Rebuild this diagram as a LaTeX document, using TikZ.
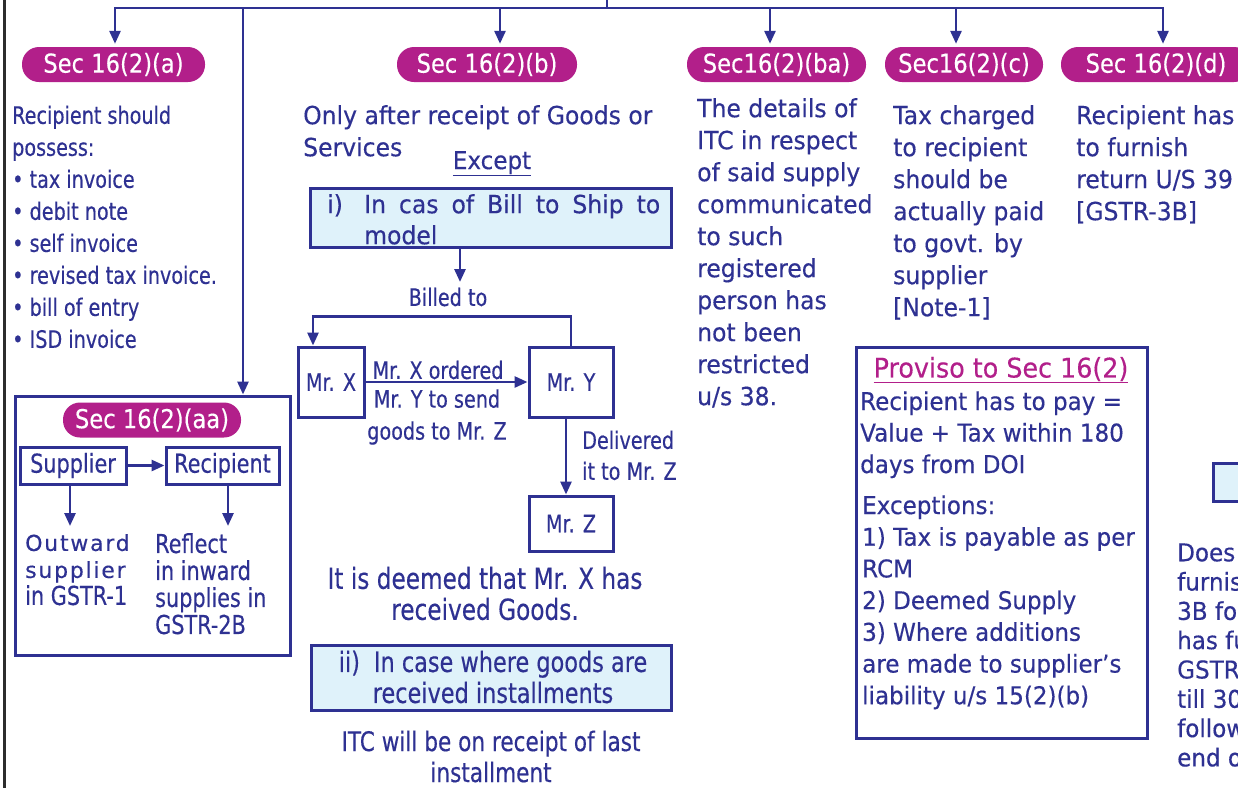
\documentclass[tikz,border=0pt]{standalone}
\usepackage{fontspec}
\setmainfont{DejaVu Sans}
\newfontfamily\mf[FakeStretch=0.94,FakeBold=0.35]{DejaVu Sans}
\newfontfamily\cf[FakeStretch=0.8,FakeBold=0.35]{DejaVu Sans}
\newfontfamily\pf[FakeStretch=0.87,FakeBold=0.3]{DejaVu Sans}
\newfontfamily\wf[LetterSpace=8,FakeBold=0.35]{DejaVu Sans}
\usetikzlibrary{arrows.meta}
\definecolor{navy}{RGB}{46,49,146}
\definecolor{mag}{RGB}{178,31,138}
\definecolor{lblue}{RGB}{223,242,250}
\definecolor{dgray}{RGB}{45,45,45}
\newcommand\fs[2]{\fontsize{#1}{#2}\selectfont}
\tikzset{
  conn/.style={draw=navy, line width=2.7pt},
  arr/.style={conn, -{Triangle[length=13pt,width=11pt]}},
  pill/.style={fill=mag, rounded corners=17pt, minimum height=35pt, text=white, font=\pf\fs{26}{30}, inner sep=0pt},
  box/.style={draw=navy, line width=3pt, inner sep=0pt},
  lbox/.style={box, fill=lblue},
  mrbox/.style={box, text=navy, font=\cf\fs{24}{30}},
  txt/.style={text=navy, inner sep=0pt, anchor=north west, align=left},
  ctxt/.style={text=navy, inner sep=0pt, align=center},
}
\begin{document}
\begin{tikzpicture}[x=1pt,y=-1pt]
\useasboundingbox (0,0) rectangle (1238,788);
\clip (0,0) rectangle (1238,788);
\fill[white] (0,0) rectangle (1238,788);

% left border
\coordinate (lbT) at (4,0);
\coordinate (lbB) at (4,788);
\draw[line width=3pt, dgray] (lbT) -- (lbB);

% bus
\coordinate (feed) at (607,0);
\coordinate (busM) at (607,8);
\coordinate (busL) at (115,8);
\coordinate (busR) at (1163,8);
\coordinate (bb) at (500,8);
\coordinate (bba) at (770,8);
\coordinate (bc) at (956,8);
\coordinate (baa) at (243,8);
\draw[conn] (feed) -- (busM);
\draw[conn, line cap=rect] (busL) -- (busR);

% pills
\node[pill, minimum width=183pt] (pa) at (113.5,64.5) {Sec 16(2)(a)};
\node[pill, minimum width=180pt] (pb) at (487,64.5) {Sec 16(2)(b)};
\node[pill, minimum width=179pt] (pba) at (776.5,64.5) {Sec16(2)(ba)};
\node[pill, minimum width=158pt] (pc) at (964,64.5) {Sec16(2)(c)};
\node[pill, minimum width=190pt] (pd) at (1156,64.5) {Sec 16(2)(d)};

\draw[arr, shorten >=3pt] (busL) -- (busL |- pa.north);
\draw[arr, shorten >=3pt] (bb) -- (bb |- pb.north);
\draw[arr, shorten >=3pt] (bba) -- (bba |- pba.north);
\draw[arr, shorten >=3pt] (bc) -- (bc |- pc.north);
\draw[arr, shorten >=3pt] (busR) -- (busR |- pd.north);

% Sec 16(2)(a) text
\node[txt, font=\cf\fs{24}{32}] (ta) at (12,105.4) {Recipient should\\possess:\\• tax invoice\\• debit note\\• self invoice\\• revised tax invoice.\\• bill of entry\\• ISD invoice};

% Sec 16(2)(aa) block
\node[box, minimum width=275pt, minimum height=259pt] (aabox) at (152.5,525.5) {};
\draw[arr] (baa) -- (baa |- aabox.north);
\node[pill, minimum width=178pt] (paa) at (152,420) {Sec 16(2)(aa)};
\node[box, minimum width=106pt, minimum height=37pt, text=navy, font=\cf\fs{26}{30}] (sup) at (73,465.5) {Supplier};
\node[box, minimum width=113pt, minimum height=37pt, text=navy, font=\cf\fs{26}{30}] (rec) at (222.5,465.5) {Recipient};
\draw[arr] (sup) -- (rec);
\coordinate (supd) at (70,526);
\coordinate (recd) at (228,526);
\draw[arr] (sup.south -| supd) -- (supd);
\draw[arr] (rec.south -| recd) -- (recd);
\node[txt, font=\wf\fs{22}{27}] (outw) at (25,534) {Outward\\supplier\\{\cf\fs{26}{27}in GSTR-1}};
\node[txt, font=\cf\fs{26}{27}] (refl) at (155,533) {Reflect\\in inward\\supplies in\\GSTR-2B};

% Sec 16(2)(b)
\node[txt, font=\mf\fs{25}{32}] (tb) at (303,105) {Only after receipt of Goods or\\Services};
\node[text=navy, inner sep=0pt, anchor=north, font=\mf\fs{24.5}{30}] (exc) at (492,151) {\underline{Except}};
\node[lbox, minimum width=361pt, minimum height=59pt] (ibox) at (490.5,217.5) {};
\node[txt, font=\mf\fs{25}{31}] (inum) at (327,194) {i)};
\node[txt, font=\mf\fs{25}{31}, text width=296pt, align=justify] (itext) at (364,194) {In cas of Bill to Ship to model};
\coordinate (bt) at (460,282);
\draw[arr] (ibox.south -| bt) -- (bt);
\node[ctxt, font=\cf\fs{24}{30}] (billed) at (448,297) {Billed to};

\node[mrbox, minimum width=66pt, minimum height=70pt] (mrx) at (331,382) {Mr. X};
\node[mrbox, minimum width=84pt, minimum height=70pt] (mry) at (571,382) {Mr. Y};
\node[mrbox, minimum width=84pt, minimum height=55pt] (mrz) at (571,523.5) {Mr. Z};
\draw[arr] (mry.north) -- ++(0,-29) -| ([xshift=-18pt]mrx.north);
\draw[arr] (mrx) -- (mry);
\node[ctxt, font=\cf\fs{24}{30}] (ord) at (438,370) {Mr. X ordered};
\node[ctxt, font=\cf\fs{24}{32}] (send) at (437,417) {Mr. Y to send\\goods to Mr. Z};
\draw[arr] ([xshift=-5pt]mry.south) -- ([xshift=-5pt]mrz.north);
\node[txt, font=\cf\fs{24}{31}] (deliv) at (582,430.4) {Delivered\\it to Mr. Z};

\node[ctxt, font=\cf\fs{29}{31}] (deemed) at (485,593.5) {It is deemed that Mr. X has\\received Goods.};
\node[lbox, minimum width=360pt, minimum height=65pt] (iibox) at (491,677.5) {};
\node[ctxt, font=\cf\fs{28}{31}] (iitext) at (493,677) {ii)\enspace In case where goods are\\received installments};
\node[ctxt, font=\cf\fs{27}{31}] (itc) at (491,756.5) {ITC will be on receipt of last\\installment};

% Sec 16(2)(ba), (c), (d)
\node[txt, font=\mf\fs{25}{32}] (cba) at (697,98) {The details of\\ITC in respect\\of said supply\\communicated\\to such\\registered\\person has\\not been\\restricted\\u/s 38.};
\node[txt, font=\mf\fs{25}{32}] (cc) at (893,105) {Tax charged\\to recipient\\should be\\actually paid\\to govt. by\\supplier\\{[Note-1]}};
\node[txt, font=\mf\fs{25}{32}] (cd) at (1076,105) {Recipient has\\to furnish\\return U/S 39\\{[GSTR-3B]}};

% Proviso
\node[box, minimum width=291pt, minimum height=391pt] (prov) at (1001.5,542.5) {};
\node[ctxt, text=mag, font=\mf\fs{27}{30}] (provt) at (1001,370) {\underline{Proviso to Sec 16(2)}};
\node[txt, font=\mf\fs{24.5}{31.5}] (prov1) at (860,391.2) {Recipient has to pay =\\Value + Tax within 180\\days from DOI};
\node[txt, font=\mf\fs{24.5}{31.7}] (prov2) at (862,495.2) {Exceptions:\\1) Tax is payable as per\\RCM\\2) Deemed Supply\\3) Where additions\\are made to supplier’s\\liability u/s 15(2)(b)};

% right edge (cut off by the frame, as in the reference)
\node[lbox, minimum width=40pt, minimum height=38pt, anchor=north west] (rbox) at (1212,462) {};
\node[txt, font=\mf\fs{24.5}{29.3}] (rtext) at (1177,543.2) {Does\\furnish\\3B for\\has fu\\GSTR-\\till 30\\follow\\end of};
\end{tikzpicture}
\end{document}
